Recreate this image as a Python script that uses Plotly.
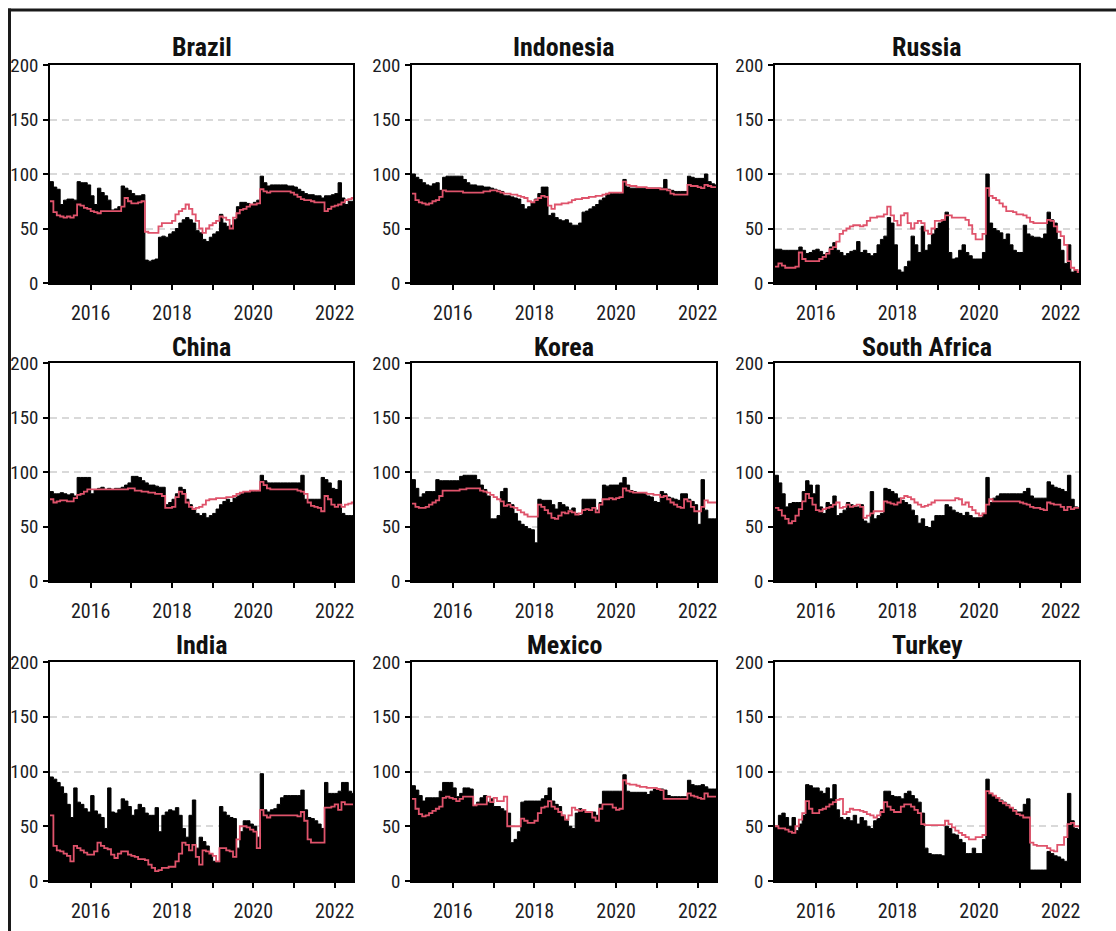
import plotly.graph_objects as go

# Monthly observations, January 2015 through June 2022
START_YEAR = 2015
countries = ["Brazil", "Indonesia", "Russia",
             "China", "Korea", "South Africa",
             "India", "Mexico", "Turkey"]

brazil_level = [93, 88, 86, 72, 76, 77, 77, 76, 93, 92, 92, 90,
                80, 72, 87, 83, 80, 76, 67, 68, 70, 89, 87, 85,
                82, 80, 80, 81, 21, 20, 21, 22, 42, 43, 42, 45,
                47, 50, 55, 58, 60, 58, 55, 48, 46, 40, 38, 42,
                45, 47, 63, 55, 52, 53, 58, 70, 74, 74, 73, 72,
                74, 76, 98, 92, 89, 90, 90, 90, 90, 90, 89, 89,
                88, 86, 84, 82, 81, 81, 80, 80, 78, 80, 80, 81,
                82, 92, 78, 72, 75, 75]
brazil_trend = [75, 65, 62, 61, 60, 61, 60, 62, 72, 71, 69, 68,
                66, 65, 64, 66, 66, 66, 66, 66, 66, 70, 78, 75,
                73, 73, 74, 75, 47, 46, 46, 46, 52, 55, 55, 55,
                57, 63, 66, 68, 72, 68, 63, 57, 50, 46, 50, 53,
                55, 57, 61, 60, 58, 50, 60, 64, 67, 68, 70, 72,
                72, 73, 86, 84, 83, 84, 84, 84, 84, 84, 84, 83,
                81, 79, 77, 76, 76, 75, 74, 74, 74, 66, 68, 70,
                71, 72, 74, 76, 77, 78]

indonesia_level = [100, 97, 95, 92, 90, 89, 91, 92, 85, 97, 98, 98,
                   98, 98, 98, 95, 92, 90, 90, 89, 89, 88, 88, 87,
                   86, 85, 84, 80, 80, 79, 78, 77, 72, 68, 70, 74,
                   77, 82, 88, 88, 62, 64, 60, 58, 57, 58, 55, 53,
                   53, 55, 65, 66, 68, 70, 72, 76, 78, 81, 82, 82,
                   82, 82, 95, 88, 87, 87, 87, 87, 87, 87, 87, 87,
                   87, 87, 95, 86, 85, 84, 84, 84, 84, 98, 97, 96,
                   96, 96, 100, 93, 91, 90]
indonesia_trend = [82, 76, 74, 73, 72, 73, 75, 76, 79, 85, 84, 84,
                   84, 84, 84, 83, 83, 83, 83, 83, 83, 84, 84, 85,
                   85, 84, 83, 82, 82, 81, 81, 80, 79, 78, 75, 74,
                   76, 78, 80, 79, 71, 68, 72, 72, 73, 73, 74, 76,
                   77, 77, 78, 78, 79, 79, 80, 80, 81, 82, 83, 83,
                   83, 83, 93, 90, 89, 89, 88, 88, 88, 87, 87, 87,
                   87, 86, 86, 85, 82, 81, 81, 81, 81, 90, 89, 89,
                   88, 87, 90, 89, 88, 88]

russia_level = [31, 31, 30, 30, 30, 30, 30, 33, 30, 27, 28, 30,
                31, 29, 26, 28, 33, 37, 30, 28, 25, 27, 29, 30,
                38, 28, 30, 27, 25, 27, 35, 40, 43, 60, 55, 35,
                12, 10, 15, 20, 43, 35, 28, 52, 30, 35, 45, 50,
                55, 57, 65, 28, 22, 23, 30, 35, 28, 25, 22, 22,
                22, 28, 100, 55, 50, 48, 46, 40, 45, 35, 30, 28,
                28, 53, 45, 43, 42, 42, 41, 45, 65, 58, 55, 40,
                30, 18, 35, 10, 12, 10]
russia_trend = [15, 18, 16, 14, 14, 14, 15, 28, 22, 20, 20, 20,
                20, 22, 24, 27, 31, 33, 38, 45, 48, 50, 52, 53,
                53, 52, 53, 57, 60, 60, 61, 61, 63, 70, 62, 57,
                53, 62, 64, 55, 50, 55, 57, 55, 48, 45, 50, 57,
                57, 58, 62, 62, 60, 60, 60, 60, 58, 53, 45, 40,
                40, 45, 87, 80, 78, 76, 73, 70, 66, 66, 65, 63,
                63, 62, 60, 56, 55, 55, 55, 55, 58, 57, 52, 47,
                43, 35, 20, 14, 12, 10]

china_level = [82, 80, 80, 81, 80, 79, 80, 78, 95, 95, 95, 95,
               80, 84, 85, 86, 84, 85, 84, 85, 85, 86, 88, 90,
               96, 96, 95, 92, 90, 88, 88, 87, 86, 86, 70, 72,
               75, 80, 86, 84, 75, 70, 66, 62, 60, 62, 58, 60,
               62, 66, 70, 73, 75, 72, 76, 78, 80, 82, 82, 82,
               82, 82, 97, 92, 90, 90, 90, 90, 90, 90, 90, 90,
               90, 90, 97, 75, 75, 75, 75, 75, 95, 93, 90, 85,
               84, 92, 62, 60, 60, 60]
china_trend = [75, 72, 73, 74, 74, 73, 73, 76, 79, 80, 82, 84,
               84, 84, 84, 84, 84, 84, 84, 84, 84, 84, 84, 85,
               85, 83, 83, 82, 82, 81, 81, 80, 80, 78, 67, 67,
               68, 77, 82, 80, 72, 68, 66, 67, 68, 70, 74, 75,
               75, 76, 76, 76, 77, 77, 78, 80, 81, 82, 82, 83,
               83, 83, 91, 88, 85, 84, 84, 84, 84, 84, 84, 84,
               84, 83, 82, 80, 72, 69, 68, 67, 64, 78, 75, 70,
               68, 70, 68, 70, 71, 72]

korea_level = [93, 85, 77, 80, 82, 82, 82, 93, 92, 92, 92, 92,
               92, 92, 96, 97, 97, 97, 97, 93, 88, 84, 78, 57,
               57, 60, 82, 85, 72, 70, 62, 55, 52, 50, 48, 47,
               35, 75, 74, 74, 74, 70, 66, 72, 70, 68, 65, 67,
               62, 60, 75, 75, 75, 75, 65, 72, 88, 87, 88, 88,
               88, 90, 95, 88, 83, 82, 81, 81, 80, 78, 77, 73,
               72, 82, 80, 77, 76, 75, 74, 80, 80, 75, 73, 70,
               52, 93, 65, 57, 57, 57]
korea_trend = [71, 68, 67, 67, 68, 70, 72, 74, 78, 83, 83, 83,
               83, 83, 84, 84, 85, 85, 85, 85, 83, 82, 81, 79,
               77, 75, 73, 69, 70, 68, 67, 65, 63, 61, 59, 59,
               59, 70, 68, 65, 62, 58, 57, 60, 63, 62, 64, 63,
               61, 62, 65, 66, 65, 67, 63, 70, 75, 75, 76, 75,
               76, 77, 85, 83, 82, 81, 81, 81, 81, 80, 80, 79,
               79, 77, 78, 75, 72, 70, 68, 67, 75, 73, 68, 64,
               64, 68, 74, 72, 72, 72]

south_africa_level = [97, 90, 80, 68, 71, 72, 72, 72, 82, 92, 88, 80,
                      88, 68, 62, 72, 70, 78, 60, 62, 65, 72, 70, 68,
                      68, 70, 55, 53, 82, 57, 60, 62, 85, 84, 82, 80,
                      76, 74, 72, 70, 65, 60, 53, 57, 50, 49, 55, 60,
                      60, 60, 70, 68, 65, 63, 62, 60, 63, 60, 58, 58,
                      58, 62, 95, 72, 76, 78, 80, 80, 80, 80, 80, 80,
                      80, 82, 85, 78, 76, 76, 76, 76, 91, 88, 86, 85,
                      84, 82, 97, 75, 68, 67]
south_africa_trend = [67, 65, 60, 57, 53, 55, 60, 66, 73, 80, 76, 70,
                      65, 64, 66, 67, 68, 70, 72, 67, 68, 70, 68, 69,
                      70, 68, 58, 60, 62, 64, 64, 64, 73, 72, 71, 70,
                      72, 76, 78, 77, 75, 72, 70, 68, 69, 70, 72, 74,
                      74, 74, 74, 74, 74, 76, 75, 70, 72, 68, 65, 62,
                      60, 62, 70, 75, 73, 73, 73, 73, 73, 73, 73, 73,
                      72, 71, 70, 68, 67, 67, 66, 65, 72, 71, 70, 70,
                      68, 65, 68, 66, 67, 67]

india_level = [95, 93, 90, 86, 80, 70, 58, 85, 72, 70, 66, 63,
               78, 64, 61, 58, 48, 85, 63, 62, 65, 75, 73, 68,
               60, 65, 70, 67, 62, 60, 60, 67, 45, 60, 63, 65,
               64, 67, 60, 48, 40, 60, 74, 30, 40, 36, 32, 25,
               18, 17, 68, 63, 60, 58, 57, 30, 45, 55, 55, 52,
               50, 40, 98, 65, 63, 65, 66, 70, 76, 78, 78, 78,
               78, 78, 83, 65, 58, 57, 55, 52, 48, 90, 80, 80,
               80, 82, 90, 90, 82, 80]
india_trend = [60, 32, 28, 27, 25, 23, 18, 32, 30, 28, 26, 24,
               24, 27, 35, 32, 30, 29, 24, 21, 25, 27, 27, 24,
               23, 22, 20, 20, 19, 15, 12, 9, 10, 12, 12, 13,
               13, 18, 25, 35, 33, 28, 33, 22, 15, 28, 27, 25,
               23, 18, 30, 30, 28, 27, 22, 38, 50, 50, 49, 47,
               45, 30, 65, 60, 58, 60, 60, 60, 60, 60, 60, 60,
               60, 59, 63, 55, 38, 35, 35, 35, 35, 67, 67, 68,
               70, 65, 72, 70, 70, 70]

mexico_level = [87, 83, 78, 73, 76, 76, 76, 76, 82, 90, 90, 90,
                85, 77, 80, 85, 85, 84, 68, 72, 76, 78, 72, 75,
                68, 68, 66, 64, 62, 35, 38, 45, 72, 73, 73, 73,
                73, 73, 75, 78, 85, 73, 70, 68, 60, 55, 50, 48,
                62, 66, 65, 63, 62, 63, 60, 70, 82, 82, 82, 82,
                82, 82, 97, 82, 81, 81, 81, 81, 81, 79, 82, 84,
                84, 84, 83, 78, 77, 77, 77, 77, 77, 92, 88, 87,
                87, 88, 86, 84, 84, 84]
mexico_trend = [75, 66, 61, 59, 60, 62, 64, 66, 68, 76, 77, 76,
                75, 73, 75, 77, 77, 77, 69, 70, 70, 70, 77, 72,
                76, 73, 73, 77, 50, 50, 50, 50, 57, 55, 53, 53,
                55, 62, 67, 68, 73, 68, 66, 63, 60, 56, 60, 67,
                65, 64, 65, 63, 63, 58, 55, 66, 70, 70, 70, 67,
                65, 66, 92, 89, 88, 88, 87, 86, 86, 85, 85, 85,
                84, 83, 75, 75, 75, 75, 75, 75, 75, 80, 78, 77,
                76, 75, 80, 77, 77, 77]

turkey_level = [50, 60, 62, 58, 50, 58, 46, 52, 60, 88, 87, 85,
                85, 82, 80, 85, 75, 88, 65, 58, 56, 58, 55, 60,
                52, 58, 55, 50, 48, 55, 57, 65, 82, 82, 78, 77,
                77, 75, 80, 82, 78, 75, 72, 62, 30, 25, 24, 24,
                24, 23, 50, 48, 43, 42, 38, 35, 25, 25, 30, 25,
                25, 38, 93, 80, 78, 76, 74, 72, 70, 67, 65, 63,
                63, 70, 75, 10, 10, 10, 10, 10, 27, 25, 23, 22,
                20, 18, 80, 55, 48, 47]
turkey_trend = [50, 48, 48, 47, 45, 44, 50, 56, 62, 73, 66, 62,
                62, 65, 66, 68, 70, 72, 74, 75, 61, 63, 66, 65,
                65, 64, 63, 61, 60, 58, 60, 63, 72, 68, 65, 63,
                63, 68, 70, 70, 68, 65, 62, 52, 51, 51, 51, 51,
                51, 51, 55, 52, 49, 46, 44, 42, 40, 38, 38, 40,
                40, 42, 82, 80, 78, 76, 73, 71, 69, 67, 64, 61,
                60, 58, 58, 35, 33, 32, 32, 32, 30, 28, 27, 33,
                33, 40, 52, 53, 50, 50]

levels = [brazil_level, indonesia_level, russia_level,
          china_level, korea_level, south_africa_level,
          india_level, mexico_level, turkey_level]
trends = [brazil_trend, indonesia_trend, russia_trend,
          china_trend, korea_trend, south_africa_trend,
          india_trend, mexico_trend, turkey_trend]

y_ticks = [0, 50, 100, 150, 200]
x_ticks = [2016, 2017, 2018, 2019, 2020, 2021, 2022]
x_tick_text = ["2016", "", "2018", "", "2020", "", "2022"]

W, H = 1116, 931
# panel boxes in pixels: column left/right, row top/bottom
col_px = [(50, 353), (412, 716), (775, 1079)]
row_px = [(65, 283), (363, 581), (662, 881)]
title_mid_px = [47, 347, 645]

RED = "#DF536B"
FONT = "Roboto Condensed, Roboto, Liberation Sans, sans-serif"
TEXT = "#1c1c24"

fig = go.Figure()


def step_x(n):
    # decimal-year position of each month start, plus the end of the last month
    return [START_YEAR + i / 12 for i in range(n + 1)]


annotations = []
for k, name in enumerate(countries):
    r, c = divmod(k, 3)
    suffix = "" if k == 0 else str(k + 1)
    xa, ya = "x" + suffix, "y" + suffix
    lv = levels[k] + [levels[k][-1]]
    tr = trends[k] + [trends[k][-1]]
    xs = step_x(len(levels[k]))

    fig.add_trace(go.Scatter(
        x=xs, y=lv, mode="lines", line=dict(shape="hv", color="black", width=1),
        fill="tozeroy", fillcolor="black", xaxis=xa, yaxis=ya,
        showlegend=False, hoverinfo="skip"))
    fig.add_trace(go.Scatter(
        x=xs, y=tr, mode="lines", line=dict(shape="hv", color=RED, width=1.8),
        xaxis=xa, yaxis=ya, showlegend=False, hoverinfo="skip"))

    x0, x1 = col_px[c]
    y0, y1 = row_px[r]

    fig.layout["xaxis" + suffix] = dict(
        domain=[x0 / W, x1 / W], range=[2015.0, 2022.45], anchor=ya,
        tickvals=x_ticks, ticktext=x_tick_text,
        ticks="outside", ticklen=5, tickwidth=1.5, tickcolor="black",
        showline=True, linecolor="black", linewidth=1.5, mirror=True,
        showgrid=False, zeroline=False, automargin=False,
        tickfont=dict(family=FONT, size=20, color=TEXT),
        ticklabelstandoff=6, fixedrange=True)
    fig.layout["yaxis" + suffix] = dict(
        domain=[1 - y1 / H, 1 - y0 / H], range=[0, 200], anchor=xa,
        tickvals=y_ticks,
        ticks="outside", ticklen=5, tickwidth=1.5, tickcolor="black",
        showline=True, linecolor="black", linewidth=1.5, mirror=True,
        showgrid=True, gridcolor="#D9D9D9", gridwidth=2, griddash="7px,5px",
        zeroline=False, automargin=False,
        tickfont=dict(family=FONT, size=19, color=TEXT),
        ticklabelstandoff=1, fixedrange=True)

    annotations.append(dict(
        text=name, xref="paper", yref="paper",
        x=(x0 + x1) / 2 / W, y=1 - title_mid_px[r] / H,
        xanchor="center", yanchor="middle", showarrow=False,
        font=dict(family=FONT, size=26, color="#111111", weight="bold")))

# outer frame along the top and left edges
shapes = [
    dict(type="line", xref="paper", yref="paper",
         x0=8 / W, x1=1, y0=1 - 10 / H, y1=1 - 10 / H,
         line=dict(color="#1a1a1a", width=3)),
    dict(type="line", xref="paper", yref="paper",
         x0=9.5 / W, x1=9.5 / W, y0=0, y1=1 - 8.5 / H,
         line=dict(color="#1a1a1a", width=3)),
]

fig.update_layout(
    template="none",
    width=W, height=H,
    margin=dict(l=0, r=0, t=0, b=0, pad=0, autoexpand=False),
    paper_bgcolor="white", plot_bgcolor="white", showlegend=False,
    annotations=annotations, shapes=shapes)

fig.write_html("out.html")
